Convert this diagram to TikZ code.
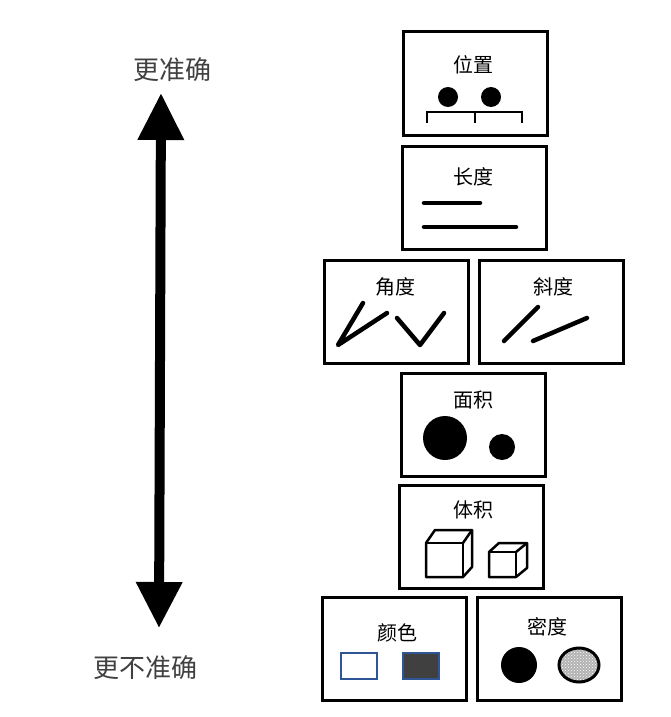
\documentclass[tikz,border=0pt]{standalone}
\usepackage{fontspec}
\newfontfamily\cjk{Noto Sans CJK SC}
\usetikzlibrary{arrows.meta,patterns}
\definecolor{rectblue}{RGB}{47,85,151}
\definecolor{darkfill}{RGB}{64,64,64}
\tikzset{
  box/.style={draw=black, line width=3pt, minimum width=144pt, minimum height=103pt, inner sep=0pt},
  lbl/.style={font=\cjk\fontsize{20}{20}\selectfont, inner sep=0pt},
  biglbl/.style={font=\cjk\fontsize{26}{26}\selectfont, text=black!75, inner sep=0pt},
  stroke/.style={line width=4.5pt, line cap=round, line join=round},
  thin/.style={line width=2pt},
  cube/.style={line width=2.5pt, line join=round},
  swatch/.style={draw=rectblue, line width=2pt},
  bigarrow/.style={line width=10pt, {Triangle[width=44pt,length=47pt]}-{Triangle[width=44pt,length=46pt]}}
}
\begin{document}
\begin{tikzpicture}[x=1pt,y=-1pt]
\useasboundingbox (0,0) rectangle (671,717);
% big arrow
\node[biglbl] (more) at (172,70) {更准确};
\node[biglbl] (less) at (145,668) {更不准确};
\coordinate (atop) at (161,93);
\coordinate (abot) at (159,628);
\draw[bigarrow] (atop) -- (abot);

% boxes
\node[box] (bpos) at (475,83.5) {};
\node[box] (blen) at (474.5,198) {};
\node[box] (bang) at (396.5,311.5) {};
\node[box] (bslo) at (551,311.5) {};
\node[box] (barea) at (473.5,424.5) {};
\node[box] (bvol) at (471.5,536.5) {};
\node[box] (bcol) at (394.5,648.5) {};
\node[box] (bden) at (549.5,648.5) {};

% labels
\node[lbl] (tpos) at (473,65) {位置};
\node[lbl] (tlen) at (473,177) {长度};
\node[lbl] (tang) at (395,287) {角度};
\node[lbl] (tslo) at (553,287) {斜度};
\node[lbl] (tarea) at (473,400) {面积};
\node[lbl] (tvol) at (473,510) {体积};
\node[lbl] (tcol) at (397,633) {颜色};
\node[lbl] (tden) at (547,627) {密度};

% position
\fill (448,97) circle (10);
\fill (491,97) circle (10);
\draw[thin] (427,123) -- (427,112) -- (522,112) -- (522,123);
\draw[thin] (475,112) -- (475,123);

% length
\draw[stroke] (424,203) -- (480,203);
\draw[stroke] (424,227) -- (516,227);

% angle
\draw[stroke] (363,303) -- (338,345) -- (387,313);
\draw[stroke] (397,318) -- (420,345) -- (444,313);

% slope
\draw[stroke] (504,341) -- (538,307);
\draw[stroke] (533,341) -- (587,318);

% area
\fill (445,438) circle (22);
\fill (502,447) circle (13);

% volume big cube
\draw[cube] (426,577) -- (426,543) -- (435,530) -- (472,530) -- (472,567) -- (463,577) -- cycle;
\draw[cube] (426,543) -- (463,543) -- (463,577);
\draw[cube] (463,543) -- (472,530);
% small cube
\draw[cube] (489,577) -- (489,552) -- (499,543) -- (527,543) -- (527,568) -- (516,577) -- cycle;
\draw[cube] (489,552) -- (516,552) -- (516,577);
\draw[cube] (516,552) -- (527,543);

% color
\draw[swatch, fill=white] (341,653) rectangle (377,679);
\draw[swatch, fill=darkfill] (403,653) rectangle (439,679);

% density
\fill (519,665) circle (18);
\fill[gray!60] (579,665) ellipse (20 and 17);
\fill[pattern=crosshatch dots, pattern color=white] (579,665) ellipse (20 and 17);
\draw[line width=3pt] (579,665) ellipse (20 and 17);
\end{tikzpicture}
\end{document}
